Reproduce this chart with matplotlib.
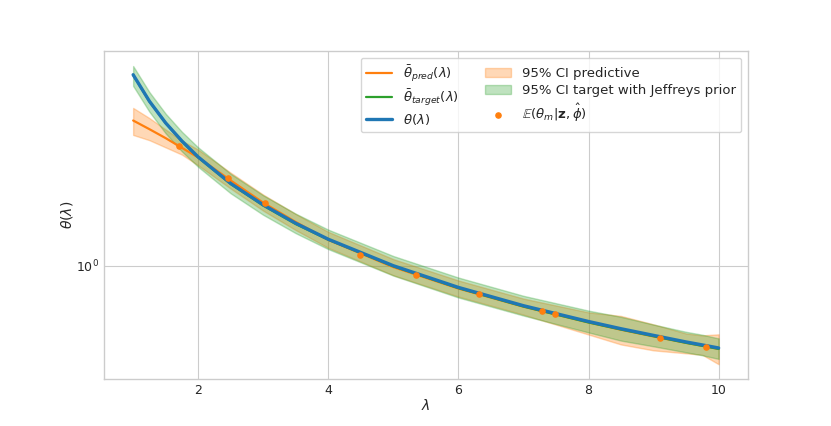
import numpy as np
import matplotlib.pyplot as plt

# values
lam = [1, 1.25, 1.5, 1.75, 2, 2.5, 3, 3.5, 4, 5, 6, 7, 8, 8.5, 9, 9.5, 9.75, 10]
theta_true = [5.0, 4.0, 3.33, 2.86, 2.5, 2.0, 1.67, 1.43, 1.25, 1.0, 0.833, 0.714,
              0.625, 0.588, 0.556, 0.526, 0.513, 0.5]
theta_target = [4.99, 3.99, 3.33, 2.85, 2.49, 1.99, 1.66, 1.42, 1.245, 0.995, 0.828, 0.709,
                0.62, 0.584, 0.552, 0.522, 0.509, 0.496]
target_hi = [5.38, 4.32, 3.6, 3.09, 2.71, 2.17, 1.81, 1.55, 1.355, 1.085, 0.905, 0.776,
             0.685, 0.65, 0.609, 0.573, 0.559, 0.542]
target_lo = [4.55, 3.66, 3.05, 2.62, 2.30, 1.84, 1.535, 1.315, 1.15, 0.92, 0.765, 0.657,
             0.57, 0.532, 0.507, 0.482, 0.47, 0.456]
theta_pred = [3.40, 3.16, 2.93, 2.70, 2.49, 2.05, 1.70, 1.445, 1.243, 0.988, 0.825, 0.708,
              0.62, 0.583, 0.551, 0.522, 0.509, 0.496]
pred_hi = [3.78, 3.47, 3.15, 2.87, 2.66, 2.19, 1.82, 1.546, 1.33, 1.057, 0.883, 0.758,
           0.675, 0.655, 0.61, 0.565, 0.556, 0.561]
pred_lo = [3.01, 2.88, 2.71, 2.55, 2.33, 1.915, 1.59, 1.35, 1.162, 0.923, 0.771, 0.662,
           0.56, 0.515, 0.49, 0.478, 0.472, 0.436]
lam_m = [1.7, 2.46, 3.02, 4.48, 5.35, 6.32, 7.29, 7.48, 9.1, 9.8]
theta_m = [2.75, 2.09, 1.69, 1.096, 0.922, 0.789, 0.682, 0.663, 0.544, 0.506]

plt.style.use('seaborn-v0_8-whitegrid')
plt.rcParams['font.family'] = 'DejaVu Sans'
plt.rcParams['legend.frameon'] = True
plt.rcParams['xtick.labelsize'] = 9
plt.rcParams['ytick.labelsize'] = 9

fig, ax = plt.subplots(figsize=(8.31, 4.26), dpi=100)
l1, = ax.plot(lam, theta_pred, color='tab:orange', lw=1.6, label=r'$\bar{\theta}_{pred}(\lambda)$')
f1 = ax.fill_between(lam, pred_lo, pred_hi, color='tab:orange', alpha=0.3, label='95% CI predictive')
l2, = ax.plot(lam, theta_target, color='tab:green', lw=1.6, label=r'$\bar{\theta}_{target}(\lambda)$')
f2 = ax.fill_between(lam, target_lo, target_hi, color='tab:green', alpha=0.3,
                     label='95% CI target with Jeffreys prior')
l3, = ax.plot(lam, theta_true, color='tab:blue', lw=2.4, label=r'$\theta(\lambda)$')
sc = ax.scatter(lam_m, theta_m, color='tab:orange', s=14, zorder=5,
                label=r'$\mathbb{E}(\theta_m|\mathbf{z},\hat{\phi})$')
ax.set_yscale('log')
ax.set_xlabel(r'$\lambda$', labelpad=1)
ax.set_ylabel(r'$\theta(\lambda)$', labelpad=1)
ax.legend(handles=[l1, l2, l3, f1, f2, sc], ncol=2, loc='upper right',
          fontsize=9.5, labelspacing=0.3)
fig.savefig('out.png')
